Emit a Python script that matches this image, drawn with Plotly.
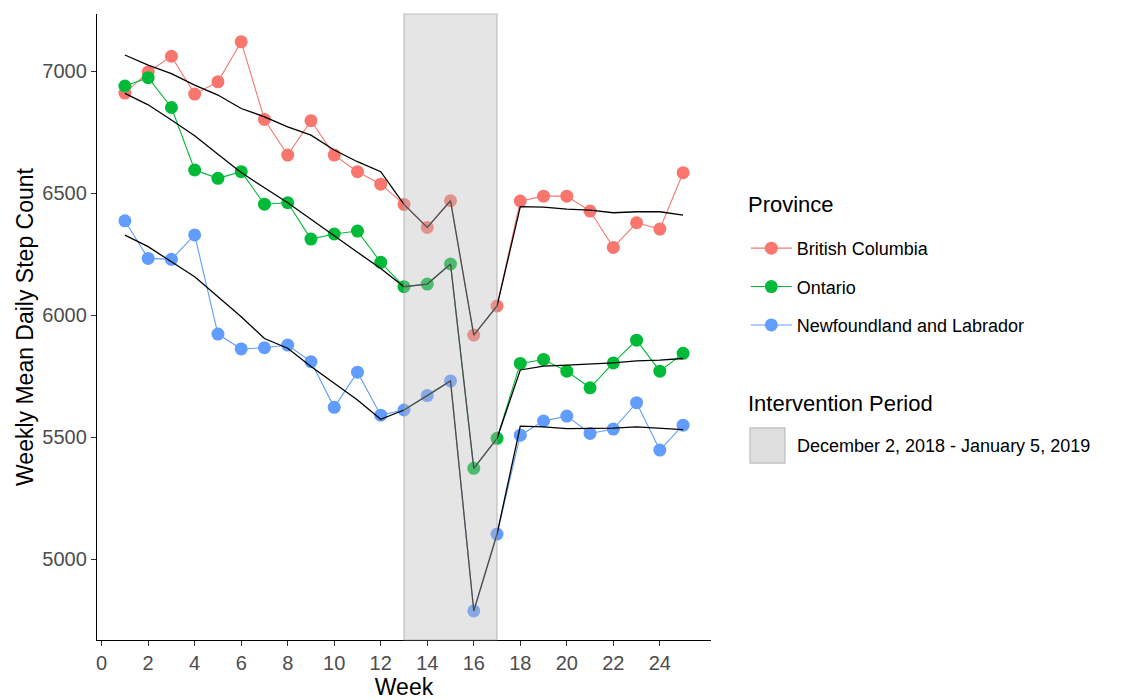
import plotly.graph_objects as go

weeks = list(range(1, 26))
provinces = ["British Columbia", "Ontario", "Newfoundland and Labrador"]
colors = ["#F8766D", "#00BA38", "#619CFF"]

bc_obs = [6910, 6996, 7061, 6906, 6956, 7120, 6802, 6656, 6797, 6656, 6588, 6537,
          6454, 6360, 6469, 5919, 6038,
          6468, 6488, 6488, 6427, 6278, 6379, 6353, 6584]
on_obs = [6939, 6973, 6851, 6595, 6561, 6588, 6455, 6461, 6312, 6333, 6345, 6217,
          6117, 6128, 6210, 5373, 5496,
          5803, 5819, 5771, 5703, 5805, 5898, 5771, 5844]
nl_obs = [6387, 6233, 6229, 6329, 5923, 5862, 5867, 5878, 5810, 5623, 5767, 5591,
          5612, 5671, 5731, 4789, 5104,
          5509, 5567, 5587, 5516, 5534, 5642, 5448, 5550]

bc_fit = [7066, 7025, 6990, 6943, 6902, 6847, 6813, 6772, 6738, 6677, 6629, 6588,
          6454, 6360, 6469, 5919, 6038,
          6445, 6443, 6435, 6431, 6420, 6424, 6424, 6410]
on_fit = [6909, 6862, 6800, 6735, 6660, 6585, 6522, 6461, 6393, 6324, 6258, 6192,
          6117, 6128, 6210, 5373, 5496,
          5776, 5792, 5796, 5800, 5805, 5813, 5816, 5823]
nl_fit = [6328, 6281, 6219, 6158, 6076, 5994, 5905, 5865, 5790, 5721, 5653, 5574,
          5612, 5671, 5731, 4789, 5104,
          5546, 5543, 5536, 5536, 5538, 5543, 5538, 5532]

observed = [bc_obs, on_obs, nl_obs]
fitted = [bc_fit, on_fit, nl_fit]

interv_start, interv_end = 13, 17
interv_label = "December 2, 2018 - January 5, 2019"

x_ticks = list(range(0, 26, 2))
y_ticks = [5000, 5500, 6000, 6500, 7000]

FONT = "Liberation Sans, Arial, sans-serif"

fig = go.Figure()

for name, col, obs in zip(provinces, colors, observed):
    fig.add_trace(go.Scatter(
        x=weeks, y=obs, mode="lines+markers", name=name,
        legendgroup=name,
        line=dict(color=col, width=1.1),
        marker=dict(color=col, size=13),
    ))

for name, fit in zip(provinces, fitted):
    fig.add_trace(go.Scatter(
        x=weeks, y=fit, mode="lines", showlegend=False,
        line=dict(color="black", width=1.3),
        hoverinfo="skip",
    ))

fig.add_shape(type="rect", xref="x", yref="paper",
              x0=interv_start, x1=interv_end, y0=0, y1=1,
              fillcolor="rgba(190,190,190,0.4)",
              line=dict(color="rgba(150,150,150,0.55)", width=1.2),
              layer="above")

# legend titles and the Intervention Period block
fig.add_annotation(xref="paper", yref="paper", x=1.057, y=0.695,
                   xanchor="left", yanchor="middle", showarrow=False,
                   text="Province",
                   font=dict(family=FONT, size=22, color="black"))
fig.add_annotation(xref="paper", yref="paper", x=1.057, y=0.377,
                   xanchor="left", yanchor="middle", showarrow=False,
                   text="Intervention Period",
                   font=dict(family=FONT, size=22, color="black"))
fig.add_shape(type="rect", xref="paper", yref="paper",
              x0=1.0635, x1=1.1205, y0=0.2827, y1=0.3387,
              fillcolor="#DEDEDE", line=dict(color="#BEBEBE", width=1.2),
              layer="above")
fig.add_annotation(xref="paper", yref="paper", x=1.136, y=0.3099,
                   xanchor="left", yanchor="middle", showarrow=False,
                   text=interv_label,
                   font=dict(family=FONT, size=18, color="black"))

fig.update_layout(
    width=1118, height=692,
    margin=dict(l=89, r=415, t=6, b=60),
    plot_bgcolor="white", paper_bgcolor="white",
    font=dict(family=FONT, color="black"),
    legend=dict(
        font=dict(family=FONT, size=18, color="black"),
        x=1.0567, y=0.655, xanchor="left", yanchor="top",
        tracegroupgap=12, itemwidth=41,
        bgcolor="rgba(0,0,0,0)",
    ),
    xaxis=dict(
        range=[-0.2, 26.2], tickmode="array", tickvals=x_ticks,
        showgrid=False, zeroline=False, automargin=False,
        showline=True, linecolor="black", linewidth=1.3,
        ticks="outside", ticklen=5, tickcolor="#333333", tickwidth=1.2,
        tickfont=dict(family=FONT, size=20, color="#4D4D4D"),
        title=dict(text="Week", font=dict(family=FONT, size=23, color="black"), standoff=5),
    ),
    yaxis=dict(
        range=[4670, 7234], tickmode="array", tickvals=y_ticks,
        showgrid=False, zeroline=False, automargin=False,
        showline=True, linecolor="black", linewidth=1.3,
        ticks="outside", ticklen=5, tickcolor="#333333", tickwidth=1.2,
        tickfont=dict(family=FONT, size=20, color="#4D4D4D"),
        title=dict(text="Weekly Mean Daily Step Count", font=dict(family=FONT, size=23, color="black"), standoff=2),
    ),
)

fig.write_html("out.html")
